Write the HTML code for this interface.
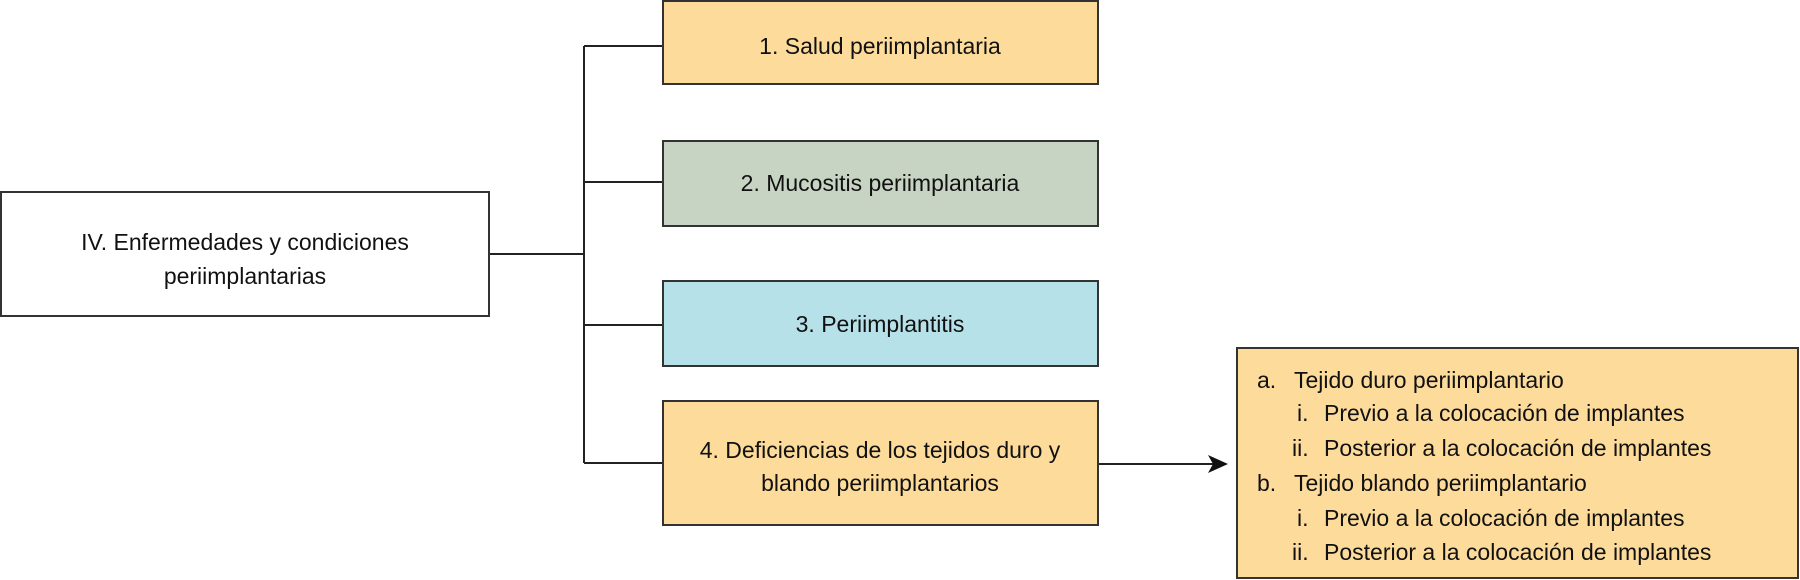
<!DOCTYPE html>
<html><head><meta charset="utf-8"><style>
html,body{margin:0;padding:0;background:#fff;}
svg{display:block;}
text{font-family:"Liberation Sans",sans-serif;font-size:23px;fill:#111;}
</style></head><body>
<svg width="1800" height="580" viewBox="0 0 1800 580" xmlns="http://www.w3.org/2000/svg">
<g stroke="#222" stroke-width="2" fill="none">
<line x1="489" y1="254" x2="584" y2="254"/>
<line x1="584" y1="46" x2="584" y2="463"/>
<line x1="584" y1="46" x2="663" y2="46"/>
<line x1="584" y1="182" x2="663" y2="182"/>
<line x1="584" y1="325" x2="663" y2="325"/>
<line x1="584" y1="463" x2="663" y2="463"/>
<line x1="1098" y1="464" x2="1215" y2="464"/>
</g>
<polygon points="1228,464 1208,455 1213,464 1208,473" fill="#111"/>
<rect x="1" y="192" width="488" height="124" fill="#fff" stroke="#333" stroke-width="2"/>
<rect x="663" y="1" width="435" height="83" fill="#FDDB9A" stroke="#333" stroke-width="2"/>
<rect x="663" y="141" width="435" height="85" fill="#C8D4C3" stroke="#333" stroke-width="2"/>
<rect x="663" y="281" width="435" height="85" fill="#B6E1E8" stroke="#333" stroke-width="2"/>
<rect x="663" y="401" width="435" height="124" fill="#FDDB9A" stroke="#333" stroke-width="2"/>
<rect x="1237" y="348" width="561" height="230" fill="#FDDB9A" stroke="#333" stroke-width="2"/>
<g text-anchor="middle">
<text x="245" y="250">IV. Enfermedades y condiciones</text>
<text x="245" y="284">periimplantarias</text>
<text x="880" y="54">1. Salud periimplantaria</text>
<text x="880" y="191">2. Mucositis periimplantaria</text>
<text x="880" y="332">3. Periimplantitis</text>
<text x="880" y="458">4. Deficiencias de los tejidos duro y</text>
<text x="880" y="491">blando periimplantarios</text>
</g>
<text x="1257" y="388">a.</text><text x="1294" y="388">Tejido duro periimplantario</text>
<text x="1297" y="421">i.</text><text x="1324" y="421">Previo a la colocación de implantes</text>
<text x="1292" y="456">ii.</text><text x="1324" y="456">Posterior a la colocación de implantes</text>
<text x="1257" y="491">b.</text><text x="1294" y="491">Tejido blando periimplantario</text>
<text x="1297" y="526">i.</text><text x="1324" y="526">Previo a la colocación de implantes</text>
<text x="1292" y="560">ii.</text><text x="1324" y="560">Posterior a la colocación de implantes</text>
</svg>
</body></html>
